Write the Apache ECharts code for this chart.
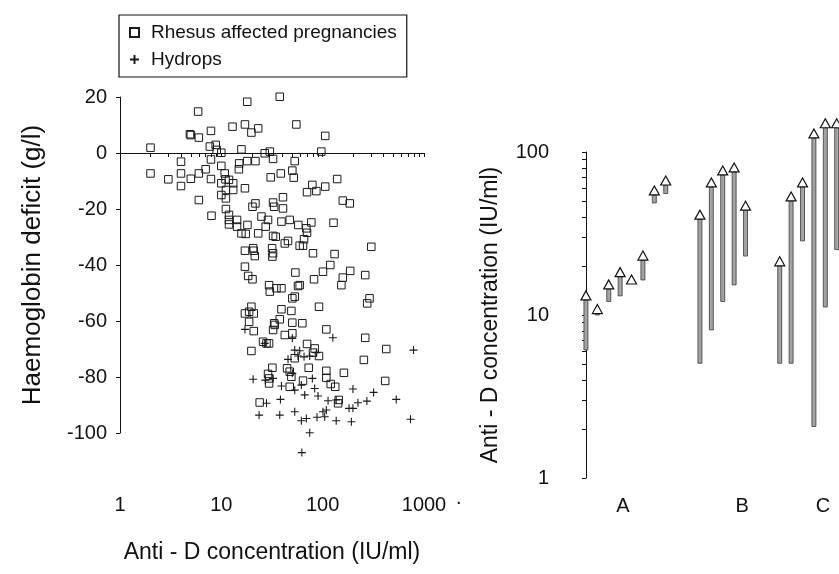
<!DOCTYPE html>
<html>
<head>
<meta charset="utf-8">
<script src="https://cdn.jsdelivr.net/npm/echarts@6/dist/echarts.min.js"></script>
<style>
html,body{margin:0;padding:0;background:#fff;}
#c{width:839px;height:574px;}
</style>
</head>
<body>
<div id="c"></div>
<script>
// ---------- Left panel data: [Anti-D concentration (IU/ml), Haemoglobin deficit (g/l)] ----------
const rhesusX = [37.7,18.0,5.9,55.0,17.1,12.9,23.1,19.8,4.9,5.0,7.9,6.0,106,2.0,7.7,8.8,9.0,10.0,15.8,26.8,30.1,32.4,97,4.0,7.9,10.0,15.0,14.9,18.0,21.7,53.0,2.0,3.0,4.0,5.0,6.0,7.0,7.9,10.8,11.0,10.0,11.9,13.1,13.1,11.1,17.1,4.0,10.0,11.1,30.7,38.6,50.2,51.8,139,79.1,70.1,86.6,106,6.0,21.7,20.3,32.4,33.2,40.6,40.6,158,185,11.1,8.0,11.9,11.9,11.9,14.3,14.3,18.1,15.8,17.4,24.9,28.9,27.4,23.1,32.4,34.4,39.2,47.3,57.5,69.0,70.1,77.3,128,42.3,45.5,59.3,64.0,65.5,17.1,20.6,20.9,21.4,31.7,32.4,31.9,80.3,131,302,17.1,18.4,20.3,53.8,100.7,119,187,263,158,82.2,
153,29.6,30.1,35.0,39.2,57.1,59.3,50.2,53.0,290,275,92.0,19.8,18.8,17.1,20.9,18.8,39.2,49.1,37.7,33.2,33.7,32.4,50.2,63.0,20.9,108.7,263,42.3,50.2,25.8,27.9,29.6,19.8,70.1,83.4,80.3,92.0,53.0,424,255,31.9,44.5,72.8,28.9,29.6,29.6,47.3,49.1,108.7,108.7,162,64.0,120,133,47.3,414,23.9,142,144];
const rhesusY = [20.1,18.3,14.8,10.2,10.2,9.4,8.8,7.3,6.7,6.4,7.9,5.5,6.1,1.9,2.3,2.9,1.1,0.1,1.3,-0.1,0.5,-2.1,0.5,-3.1,-2.3,-4.6,-3.7,-5.8,-2.9,-2.9,-2.9,-7.3,-9.4,-7.3,-9.2,-7.3,-5.8,-9.3,-7.3,-9.4,-10.8,-9.6,-10.8,-13.2,-13.2,-12.6,-11.8,-15.0,-16.2,-8.7,-7.3,-6.3,-8.8,-9.3,-11.4,-14.0,-13.6,-12.0,-16.8,-18.0,-19.2,-17.7,-19.2,-15.8,-19.8,-17.0,-18.0,-20.0,-22.4,-22.1,-23.9,-25.5,-23.9,-26.3,-25.7,-28.7,-28.9,-22.7,-23.9,-26.3,-28.7,-29.6,-29.9,-24.5,-23.9,-25.7,-26.9,-28.5,-24.8,-24.9,-32.3,-31.4,-33.1,-33.1,-30.8,-34.9,-34.0,-34.9,-36.8,-34.0,-35.8,-37.0,-35.8,-36.1,-33.5,-40.6,-43.9,-45.1,-42.7,-42.4,-40.0,-42.1,-43.6,-44.5,-45.1,
-47.2,-47.2,-49.5,-48.3,-48.3,-47.5,-47.2,-51.9,-51.3,-51.9,-53.7,-54.9,-54.9,-56.7,-57.3,-57.3,-60.3,-55.8,-56.4,-59.4,-60.8,-61.4,-63.2,-60.6,-60.8,-63.6,-63.0,-66.0,-65.0,-64.4,-67.4,-68.0,-68.0,-70.7,-68.2,-69.8,-71.3,-72.5,-73.3,-70.0,-73.9,-76.7,-76.9,-76.7,-78.9,-80.5,-82.3,-78.1,-79.9,-77.8,-80.3,-78.5,-81.3,-82.5,-83.5,-83.5,-81.4,-89.1,-89.4,-88.2];
const hydropsX = [17.1,126,50.2,53.0,59.3,57.1,45.5,65.5,74.5,86.6,788,26.8,20.6,27.2,32.4,50.2,79.1,39.2,53.0,61.6,66.5,83.4,90.0,199,318,27.9,38.3,113,136,223,273,532,23.6,37.7,53.0,61.6,69.0,87.9,100.7,108.7,104.7,136,182,199,192,736,74.5,62.3];
const hydropsY = [-63.0,-66.0,-66.2,-70.4,-70.6,-72.5,-73.7,-72.8,-72.5,-71.3,-70.4,-68.0,-80.8,-81.1,-80.5,-78.7,-80.5,-83.2,-84.7,-82.9,-86.4,-84.1,-86.8,-84.3,-85.5,-89.4,-88.0,-88.5,-88.2,-89.2,-88.6,-88.0,-93.6,-93.6,-92.4,-95.6,-94.8,-94.4,-92.4,-91.8,-94.2,-95.6,-91.2,-91.2,-96.0,-95.1,-99.9,-107.0];

// ---------- Right panel data: Anti-D concentration (IU/ml), lowest -> highest ----------
const groupA_pos  = [0,1,2,3,4,5,6,7];
const groupA_low  = [6.1,10.0,12.1,13.1,16.4,16.4,48.7,55.6];
const groupA_high = [13.1,10.8,15.3,18.2,16.4,23,57.7,66.4];
const groupB_pos  = [10,11,12,13,14];
const groupB_low  = [5.06,8.1,12.1,15.3,23];
const groupB_high = [41,64.6,76.5,79.8,46.5];
const groupC_pos  = [17,18,19,20,21,22];
const groupC_low  = [5.06,5.06,28.5,2.07,11.2,25.2];
const groupC_high = [21.2,53,64.6,129,149,149];

// ---------- Tick labels ----------
const leftXLabels = [1,10,100,1000];
const leftXTicks = [1,2,3,4,5,6,7,8,9,10,20,30,40,50,60,70,80,90,100,200,300,400,500,600,700,800,900,1000];
const leftYMin = -100, leftYMax = 20, leftYStep = 20;
const rightYLabels = [1,10,100];
const rightYTicks = [1,2,3,4,5,6,7,8,9,10,20,30,40,50,60,70,80,90,100];
const groupLabels = ['A','B','C'];
const groupLabelPos = [3.25,13.7,20.8];

const FONT = '"Liberation Sans", Arial, Helvetica, sans-serif';
const INK = '#111';

function zip(xs, ys){ return xs.map((x,i)=>[x, ys[i]]); }
function arrows(pos, lo, hi){ return pos.map((p,i)=>[p, lo[i], hi[i]]); }
const arrowData = [].concat(
  arrows(groupA_pos, groupA_low, groupA_high),
  arrows(groupB_pos, groupB_low, groupB_high),
  arrows(groupC_pos, groupC_low, groupC_high)
);

function renderArrow(params, api){
  const p = api.value(0), lo = api.value(1), hi = api.value(2);
  const top = api.coord([p, hi]);
  const bot = api.coord([p, lo]);
  const baseY = top[1] + 4;
  const children = [];
  if (bot[1] > baseY + 0.5) {
    children.push({type:'rect', shape:{x: top[0]-2, y: baseY, width: 4, height: bot[1]-baseY},
      style:{fill:'#a3a3a3', stroke:'#3a3a3a', lineWidth:0.8}});
  }
  children.push({type:'polygon', shape:{points:[[top[0], top[1]-5],[top[0]-5, baseY],[top[0]+5, baseY]]},
    style:{fill:'#fff', stroke:INK, lineWidth:1.2}});
  return {type:'group', children};
}

const chart = echarts.init(document.getElementById('c'), null, {renderer:'canvas'});
chart.setOption({
  backgroundColor:'#fff',
  animation:false,
  textStyle:{fontFamily:FONT, color:INK},
  legend:{
    orient:'vertical', left:119, top:15,
    padding:[8,10,8,10], itemGap:8,
    itemWidth:9, itemHeight:9,
    borderColor:INK, borderWidth:1.2,
    textStyle:{fontFamily:FONT, fontSize:19, color:INK, padding:[0,0,0,7]},
    data:['Rhesus affected pregnancies','Hydrops']
  },
  grid:[
    {left:120, top:97, width:304, height:336},
    {left:562, top:152, width:277, height:326}
  ],
  xAxis:[
    {type:'log', gridIndex:0, min:1, max:1000, logBase:10, offset:52,
     axisLine:{show:true, lineStyle:{color:INK, width:1}},
     axisTick:{show:true, length:4, customValues:leftXTicks, lineStyle:{color:INK}},
     minorTick:{show:false}, splitLine:{show:false},
     axisLabel:{customValues:leftXLabels, fontSize:20, color:INK, margin:10, fontFamily:FONT,
       formatter:(v)=>String(Math.round(v))},
     name:'Anti - D concentration (IU/ml)', nameLocation:'middle', nameGap:56,
     nameTextStyle:{fontSize:23, color:INK, fontFamily:FONT}},
    {type:'value', gridIndex:1, min:-2.1, max:22.2,
     axisLine:{show:false}, axisTick:{show:false}, splitLine:{show:false},
     axisLabel:{customValues:groupLabelPos, fontSize:20, color:INK, margin:18, fontFamily:FONT,
       formatter:(v)=>{ const i = groupLabelPos.indexOf(v); return i>=0 ? groupLabels[i] : ''; }}}
  ],
  yAxis:[
    {type:'value', gridIndex:0, min:leftYMin, max:leftYMax, interval:leftYStep,
     axisLine:{show:true, lineStyle:{color:INK, width:1}},
     axisTick:{show:true, length:4, lineStyle:{color:INK}},
     splitLine:{show:false},
     axisLabel:{fontSize:20, color:INK, margin:13, fontFamily:FONT},
     name:'Haemoglobin deficit (g/l)', nameLocation:'middle', nameGap:74,
     nameTextStyle:{fontSize:26, color:INK, fontFamily:FONT}},
    {type:'log', gridIndex:1, min:1, max:100, logBase:10,
     axisLine:{show:true, lineStyle:{color:INK, width:1}},
     axisTick:{show:true, length:4, customValues:rightYTicks, lineStyle:{color:INK}},
     minorTick:{show:false}, splitLine:{show:false},
     axisLabel:{customValues:rightYLabels, fontSize:20, color:INK, margin:13, fontFamily:FONT},
     name:'Anti - D concentration (IU/ml)', nameLocation:'middle', nameGap:60,
     nameTextStyle:{fontSize:23, color:INK, fontFamily:FONT}}
  ],
  series:[
    {name:'Rhesus affected pregnancies', type:'scatter', xAxisIndex:0, yAxisIndex:0, clip:false,
     symbol:'rect', symbolSize:7.5,
     itemStyle:{color:'rgba(255,255,255,0)', borderColor:'#1a1a1a', borderWidth:1, opacity:1},
     data: zip(rhesusX, rhesusY)},
    {name:'Hydrops', type:'scatter', xAxisIndex:0, yAxisIndex:0, clip:false,
     symbol:'path://M5,0 L5,10 M0,5 L10,5', symbolSize:8,
     itemStyle:{color:'rgba(255,255,255,0)', borderColor:'#1a1a1a', borderWidth:1.1, opacity:1},
     data: zip(hydropsX, hydropsY)},
    {name:'Range', type:'custom', xAxisIndex:1, yAxisIndex:1, clip:false,
     renderItem: renderArrow, encode:{x:0, y:[1,2]},
     data: arrowData}
  ],
  graphic:[
    {type:'text', left:456, top:488, style:{text:'.', fontSize:20, fill:INK, fontFamily:FONT}}
  ]
});
</script>
</body>
</html>
